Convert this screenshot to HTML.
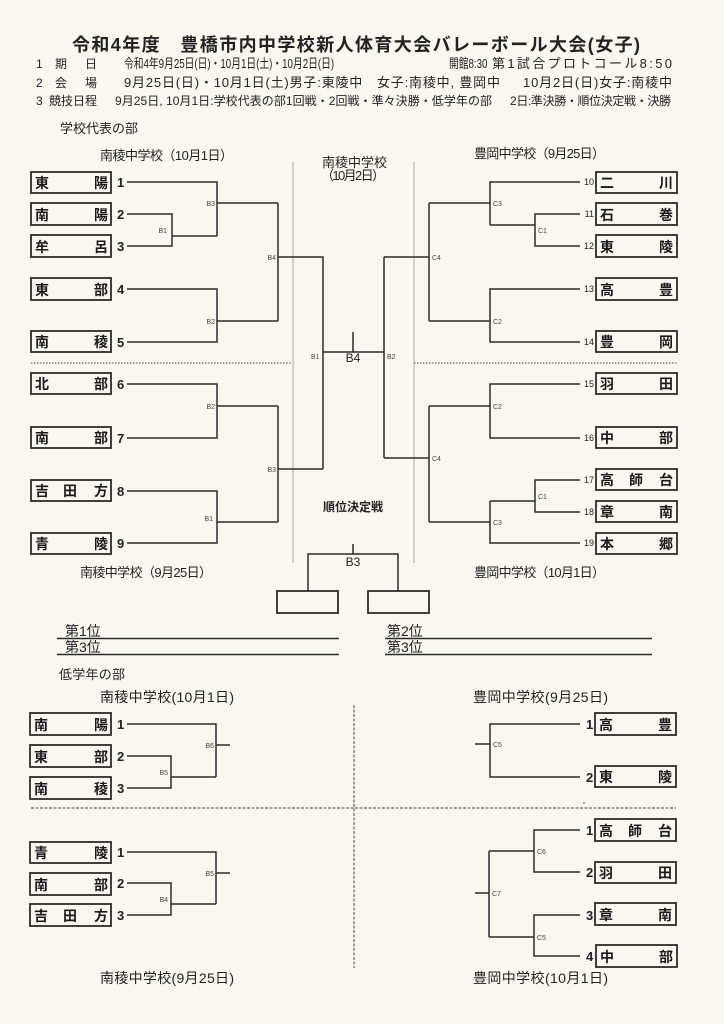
<!DOCTYPE html>
<html><head><meta charset="utf-8">
<style>
html,body{margin:0;padding:0;background:#f8f7f0;}
svg{display:block;}
text{font-family:"Liberation Sans","Noto Sans CJK JP",sans-serif;fill:#222;}
.t{font-size:12px;}
.t13{font-size:13px;}
.h{font-size:13px;}
.h14{font-size:14px;}
.n{font-size:14px;font-weight:bold;fill:#1a1a1a;}
.num{font-size:13px;font-weight:bold;}
.sn{font-size:9px;}
.lb{font-size:7px;fill:#444;}
.ln{stroke:#2b2b2b;stroke-width:1.5;fill:none;}
.bx{stroke:#2b2b2b;stroke-width:1.8;fill:none;}
.dv{stroke:#a8a8a8;stroke-width:1;}
.dot{stroke:#444;stroke-width:1;stroke-dasharray:1.5 1.5;}
.dsh{stroke:#444;stroke-width:1;stroke-dasharray:3 1.5;}
</style></head>
<body>
<svg width="724" height="1024" viewBox="0 0 724 1024" xmlns="http://www.w3.org/2000/svg">
<rect width="724" height="1024" fill="#f8f7f0"/>

<!-- Header -->
<text x="72" y="51" font-size="18" font-weight="bold" textLength="568" lengthAdjust="spacing">令和4年度　豊橋市内中学校新人体育大会バレーボール大会(女子)</text>
<text class="t" x="36" y="68">1</text><text class="t" x="55" y="68">期</text><text class="t" x="85" y="68">日</text>
<text class="t13" transform="translate(124,68) scale(0.75,1)">令和4年9月25日(日)・10月1日(土)・10月2日(日)</text>
<text class="t13" transform="translate(449,68) scale(0.75,1)">開館8:30</text>
<text class="t13" x="492" y="68" textLength="180" lengthAdjust="spacing">第1試合プロトコール8:50</text>
<text class="t" x="36" y="87">2</text><text class="t" x="55" y="87">会</text><text class="t" x="85" y="87">場</text>
<text class="t13" x="124" y="87" textLength="376" lengthAdjust="spacing">9月25日(日)・10月1日(土)男子:東陵中　女子:南稜中, 豊岡中</text>
<text class="t13" x="523" y="87" textLength="149" lengthAdjust="spacing">10月2日(日)女子:南稜中</text>
<text class="t" x="36" y="105">3</text>
<text class="t" x="49" y="105" textLength="48" lengthAdjust="spacing">競技日程</text>
<text class="t" x="115" y="105" textLength="377" lengthAdjust="spacing">9月25日, 10月1日:学校代表の部1回戦・2回戦・準々決勝・低学年の部</text>
<text class="t" x="510" y="105" textLength="161" lengthAdjust="spacing">2日:準決勝・順位決定戦・決勝</text>

<!-- Section 1 headings -->
<text class="h" x="60" y="133" textLength="78" lengthAdjust="spacing">学校代表の部</text>
<text class="h" x="100" y="160" textLength="133" lengthAdjust="spacing">南稜中学校（10月1日）</text>
<text class="h" x="474" y="158" textLength="131" lengthAdjust="spacing">豊岡中学校（9月25日）</text>
<text class="h" x="322" y="167" textLength="65" lengthAdjust="spacing">南稜中学校</text>
<text class="h" x="321" y="180" textLength="64" lengthAdjust="spacing">（10月2日）</text>
<text class="h" x="80" y="577" textLength="132" lengthAdjust="spacing">南稜中学校（9月25日）</text>
<text class="h" x="474" y="577" textLength="131" lengthAdjust="spacing">豊岡中学校（10月1日）</text>

<!-- dividers -->
<line class="dv" x1="293" y1="162" x2="293" y2="563"/>
<line class="dv" x1="414" y1="162" x2="414" y2="563"/>
<line class="dot" x1="31" y1="363" x2="292" y2="363"/>
<line class="dot" x1="414" y1="363" x2="677" y2="363"/>

<!-- Left boxes upper section -->
<g>
<rect class="bx" x="31" y="172" width="80" height="21"/><text class="n" x="35" y="188">東</text><text class="n" x="108" y="188" text-anchor="end">陽</text><text class="num" x="117" y="187">1</text>
<rect class="bx" x="31" y="203" width="80" height="22"/><text class="n" x="35" y="220">南</text><text class="n" x="108" y="220" text-anchor="end">陽</text><text class="num" x="117" y="219">2</text>
<rect class="bx" x="31" y="235" width="80" height="22"/><text class="n" x="35" y="252">牟</text><text class="n" x="108" y="252" text-anchor="end">呂</text><text class="num" x="117" y="251">3</text>
<rect class="bx" x="31" y="278" width="80" height="22"/><text class="n" x="35" y="295">東</text><text class="n" x="108" y="295" text-anchor="end">部</text><text class="num" x="117" y="294">4</text>
<rect class="bx" x="31" y="331" width="80" height="21"/><text class="n" x="35" y="347">南</text><text class="n" x="108" y="347" text-anchor="end">稜</text><text class="num" x="117" y="347">5</text>
<rect class="bx" x="31" y="373" width="80" height="21"/><text class="n" x="35" y="389">北</text><text class="n" x="108" y="389" text-anchor="end">部</text><text class="num" x="117" y="389">6</text>
<rect class="bx" x="31" y="427" width="80" height="21"/><text class="n" x="35" y="443">南</text><text class="n" x="108" y="443" text-anchor="end">部</text><text class="num" x="117" y="443">7</text>
<rect class="bx" x="31" y="480" width="80" height="21"/><text class="n" x="35" y="496">吉</text><text class="n" x="70" y="496" text-anchor="middle">田</text><text class="n" x="108" y="496" text-anchor="end">方</text><text class="num" x="117" y="496">8</text>
<rect class="bx" x="31" y="533" width="80" height="21"/><text class="n" x="35" y="549">青</text><text class="n" x="108" y="549" text-anchor="end">陵</text><text class="num" x="117" y="548">9</text>
</g>

<!-- Left bracket lines upper -->
<path class="ln" d="M127 182H217V236 M127 214H172V246H127 M172 236H217 M217 203H278 M127 289H217V342H127 M217 321H278 M278 203V321 M278 257H323V469 M127 384H217V438H127 M217 406H278 M127 491H217V543H127 M217 522H278 M278 406V522 M278 469H323"/>
<text class="lb" x="167" y="233" text-anchor="end">B1</text>
<text class="lb" x="215" y="206" text-anchor="end">B3</text>
<text class="lb" x="215" y="324" text-anchor="end">B2</text>
<text class="lb" x="276" y="260" text-anchor="end">B4</text>
<text class="lb" x="215" y="409" text-anchor="end">B2</text>
<text class="lb" x="213" y="521" text-anchor="end">B1</text>
<text class="lb" x="276" y="472" text-anchor="end">B3</text>

<!-- Center final -->
<path class="ln" d="M323 352H384 M353 332V352 M384 257V458"/>
<text x="353" y="362" font-size="12" text-anchor="middle" fill="#333">B4</text>
<text class="lb" x="311" y="359">B1</text>
<text class="lb" x="387" y="359">B2</text>

<!-- Right boxes upper section -->
<g>
<rect class="bx" x="596" y="172" width="81" height="21"/><text class="n" x="600" y="188">二</text><text class="n" x="673" y="188" text-anchor="end">川</text><text class="sn" x="594" y="185" text-anchor="end">10</text>
<rect class="bx" x="596" y="203" width="81" height="22"/><text class="n" x="600" y="220">石</text><text class="n" x="673" y="220" text-anchor="end">巻</text><text class="sn" x="594" y="217" text-anchor="end">11</text>
<rect class="bx" x="596" y="235" width="81" height="22"/><text class="n" x="600" y="252">東</text><text class="n" x="673" y="252" text-anchor="end">陵</text><text class="sn" x="594" y="249" text-anchor="end">12</text>
<rect class="bx" x="596" y="278" width="81" height="22"/><text class="n" x="600" y="295">高</text><text class="n" x="673" y="295" text-anchor="end">豊</text><text class="sn" x="594" y="292" text-anchor="end">13</text>
<rect class="bx" x="596" y="331" width="81" height="21"/><text class="n" x="600" y="347">豊</text><text class="n" x="673" y="347" text-anchor="end">岡</text><text class="sn" x="594" y="345" text-anchor="end">14</text>
<rect class="bx" x="596" y="373" width="81" height="21"/><text class="n" x="600" y="389">羽</text><text class="n" x="673" y="389" text-anchor="end">田</text><text class="sn" x="594" y="387" text-anchor="end">15</text>
<rect class="bx" x="596" y="427" width="81" height="21"/><text class="n" x="600" y="443">中</text><text class="n" x="673" y="443" text-anchor="end">部</text><text class="sn" x="594" y="441" text-anchor="end">16</text>
<rect class="bx" x="596" y="469" width="81" height="21"/><text class="n" x="600" y="485">高</text><text class="n" x="636" y="485" text-anchor="middle">師</text><text class="n" x="673" y="485" text-anchor="end">台</text><text class="sn" x="594" y="483" text-anchor="end">17</text>
<rect class="bx" x="596" y="501" width="81" height="21"/><text class="n" x="600" y="517">章</text><text class="n" x="673" y="517" text-anchor="end">南</text><text class="sn" x="594" y="515" text-anchor="end">18</text>
<rect class="bx" x="596" y="533" width="81" height="21"/><text class="n" x="600" y="549">本</text><text class="n" x="673" y="549" text-anchor="end">郷</text><text class="sn" x="594" y="546" text-anchor="end">19</text>
</g>

<!-- Right bracket lines -->
<path class="ln" d="M580 182H490V225 M580 214H535V246H580 M535 225H490 M490 203H429 M580 289H490V342H580 M490 321H429 M429 203V321 M429 257H384 M580 384H490V438H580 M490 406H429 M580 480H535V512H580 M535 501H490 M580 543H490V501 M490 522H429 M429 406V522 M429 458H384"/>
<text class="lb" x="538" y="233">C1</text>
<text class="lb" x="493" y="206">C3</text>
<text class="lb" x="493" y="324">C2</text>
<text class="lb" x="432" y="260">C4</text>
<text class="lb" x="493" y="409">C2</text>
<text class="lb" x="538" y="499">C1</text>
<text class="lb" x="493" y="525">C3</text>
<text class="lb" x="432" y="461">C4</text>

<!-- Placement -->
<text x="353" y="511" font-size="12" font-weight="bold" text-anchor="middle">順位決定戦</text>
<path class="ln" d="M353 544V554 M308 591V554H398V591"/>
<text x="353" y="566" font-size="12" text-anchor="middle" fill="#333">B3</text>
<rect class="bx" x="277" y="591" width="61" height="22"/>
<rect class="bx" x="368" y="591" width="61" height="22"/>

<text class="h14" x="65" y="636">第1位</text>
<line class="ln" x1="57" y1="638.5" x2="339" y2="638.5" stroke-width="1.3"/>
<text class="h14" x="65" y="652">第3位</text>
<line class="ln" x1="57" y1="654.5" x2="339" y2="654.5" stroke-width="1.3"/>
<text class="h14" x="387" y="636">第2位</text>
<line class="ln" x1="385" y1="638.5" x2="652" y2="638.5" stroke-width="1.3"/>
<text class="h14" x="387" y="652">第3位</text>
<line class="ln" x1="385" y1="654.5" x2="652" y2="654.5" stroke-width="1.3"/>

<!-- Lower section -->
<text class="h" x="59" y="679" textLength="66" lengthAdjust="spacing">低学年の部</text>
<text class="h14" x="100" y="702" textLength="134" lengthAdjust="spacing">南稜中学校(10月1日)</text>
<text class="h14" x="473" y="702" textLength="135" lengthAdjust="spacing">豊岡中学校(9月25日)</text>
<text class="h14" x="100" y="983" textLength="134" lengthAdjust="spacing">南稜中学校(9月25日)</text>
<text class="h14" x="473" y="983" textLength="135" lengthAdjust="spacing">豊岡中学校(10月1日)</text>

<line class="dsh" x1="354" y1="705" x2="354" y2="968"/>
<line class="dsh" x1="31" y1="808" x2="676" y2="808"/>
<circle cx="584" cy="803" r="0.8" fill="#444"/>

<!-- lower left boxes -->
<rect class="bx" x="30" y="713" width="81" height="22"/><text class="n" x="34" y="730">南</text><text class="n" x="108" y="730" text-anchor="end">陽</text><text class="num" x="117" y="729">1</text>
<rect class="bx" x="30" y="745" width="81" height="22"/><text class="n" x="34" y="762">東</text><text class="n" x="108" y="762" text-anchor="end">部</text><text class="num" x="117" y="761">2</text>
<rect class="bx" x="30" y="777" width="81" height="22"/><text class="n" x="34" y="794">南</text><text class="n" x="108" y="794" text-anchor="end">稜</text><text class="num" x="117" y="793">3</text>
<rect class="bx" x="30" y="842" width="81" height="21"/><text class="n" x="34" y="858">青</text><text class="n" x="108" y="858" text-anchor="end">陵</text><text class="num" x="117" y="857">1</text>
<rect class="bx" x="30" y="873" width="81" height="22"/><text class="n" x="34" y="890">南</text><text class="n" x="108" y="890" text-anchor="end">部</text><text class="num" x="117" y="888">2</text>
<rect class="bx" x="30" y="904" width="81" height="22"/><text class="n" x="34" y="921">吉</text><text class="n" x="70" y="921" text-anchor="middle">田</text><text class="n" x="108" y="921" text-anchor="end">方</text><text class="num" x="117" y="920">3</text>

<path class="ln" d="M127 724H216V777 M127 756H171V788H127 M171 777H216 M216 745H230 M127 852H216V904 M127 883H171V915H127 M171 904H216 M216 873H230"/>
<text class="lb" x="168" y="775" text-anchor="end">B5</text>
<text class="lb" x="214" y="748" text-anchor="end">B6</text>
<text class="lb" x="168" y="902" text-anchor="end">B4</text>
<text class="lb" x="214" y="876" text-anchor="end">B5</text>

<!-- lower right boxes -->
<rect class="bx" x="595" y="713" width="81" height="22"/><text class="n" x="599" y="730">高</text><text class="n" x="672" y="730" text-anchor="end">豊</text><text class="num" x="586" y="729">1</text>
<rect class="bx" x="595" y="766" width="81" height="21"/><text class="n" x="599" y="782">東</text><text class="n" x="672" y="782" text-anchor="end">陵</text><text class="num" x="586" y="782">2</text>
<rect class="bx" x="595" y="819" width="81" height="22"/><text class="n" x="599" y="836">高</text><text class="n" x="635" y="836" text-anchor="middle">師</text><text class="n" x="672" y="836" text-anchor="end">台</text><text class="num" x="586" y="835">1</text>
<rect class="bx" x="595" y="862" width="81" height="21"/><text class="n" x="599" y="878">羽</text><text class="n" x="672" y="878" text-anchor="end">田</text><text class="num" x="586" y="877">2</text>
<rect class="bx" x="595" y="903" width="81" height="22"/><text class="n" x="599" y="920">章</text><text class="n" x="672" y="920" text-anchor="end">南</text><text class="num" x="586" y="920">3</text>
<rect class="bx" x="596" y="945" width="81" height="22"/><text class="n" x="600" y="962">中</text><text class="n" x="673" y="962" text-anchor="end">部</text><text class="num" x="586" y="961">4</text>

<path class="ln" d="M580 724H490V777H580 M490 744H475 M580 830H534V872H580 M534 851H489 M580 915H534V956H580 M534 937H489 M489 851V937 M489 893H475"/>
<text class="lb" x="493" y="747">C5</text>
<text class="lb" x="537" y="854">C6</text>
<text class="lb" x="537" y="940">C5</text>
<text class="lb" x="492" y="896">C7</text>
</svg>
</body></html>
